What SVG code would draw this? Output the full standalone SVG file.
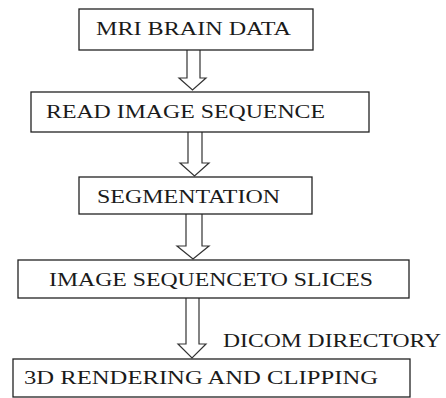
<svg xmlns="http://www.w3.org/2000/svg" width="446" height="398" viewBox="0 0 446 398">
<style>
.box{fill:#fff;stroke:#222;stroke-width:1.3}
.arr{fill:#fff;stroke:#333;stroke-width:1.2;stroke-linejoin:miter}
text{font-family:"Liberation Serif","Times New Roman",serif;font-size:19px;fill:#1a1a1a}
</style>
<rect width="446" height="398" fill="#fff"/>
<g id="connectors">
<path class="arr" d="M187,50 V78 H179 L192.5,90 L206,78 H200 V50"/>
<path class="arr" d="M188,132 V163 H180 L194.5,176 L209,163 H202 V132"/>
<path class="arr" d="M186,214 V246 H177 L193,259 L209,246 H202 V214"/>
<path class="arr" d="M186,298 V344 H178 L192,358 L206,344 H199 V298"/>
<text id="label-dicom" x="223" y="347" textLength="218" lengthAdjust="spacingAndGlyphs">DICOM DIRECTORY</text>
</g>
<g id="node-mri">
<rect class="box" x="79" y="9" width="234" height="41"/>
<text x="96" y="35" textLength="195" lengthAdjust="spacingAndGlyphs">MRI BRAIN DATA</text>
</g>
<g id="node-read">
<rect class="box" x="31" y="92" width="338" height="40"/>
<text x="46" y="118" textLength="279" lengthAdjust="spacingAndGlyphs">READ IMAGE SEQUENCE</text>
</g>
<g id="node-seg">
<rect class="box" x="79" y="177" width="233" height="37"/>
<text x="97" y="203" textLength="183" lengthAdjust="spacingAndGlyphs">SEGMENTATION</text>
</g>
<g id="node-slices">
<rect class="box" x="18" y="260" width="391" height="38"/>
<text x="49" y="286" textLength="324" lengthAdjust="spacingAndGlyphs">IMAGE SEQUENCETO SLICES</text>
</g>
<g id="node-render">
<rect class="box" x="13" y="359" width="397" height="38"/>
<text x="24" y="384" textLength="354" lengthAdjust="spacingAndGlyphs">3D RENDERING AND CLIPPING</text>
</g>
</svg>
